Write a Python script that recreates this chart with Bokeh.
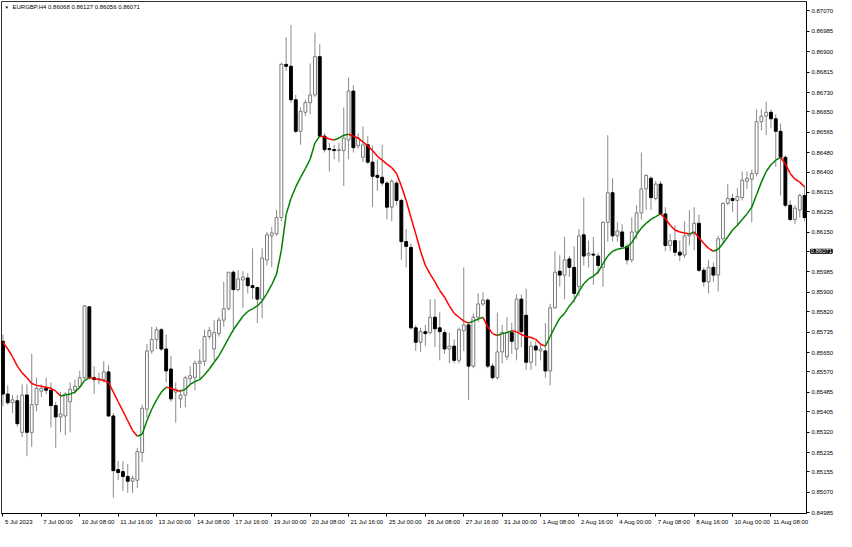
import numpy as np
from bokeh.plotting import figure
from bokeh.models import ColumnDataSource, FixedTicker, PrintfTickFormatter, Label, Range1d
from bokeh.embed import file_html
from bokeh.resources import INLINE

# ---------------- data (EURGBP, H4) ----------------
opens = [0.85697,0.85478,0.85442,0.85450,0.85319,0.85474,0.85319,0.85434,0.85490,0.85502,
         0.85494,0.85430,0.85383,0.85387,0.85446,0.85494,0.85510,0.85546,0.85840,0.85546,
         0.85538,0.85538,0.85570,0.85387,0.85164,0.85156,0.85136,0.85116,0.85120,0.85235,
         0.85415,0.85657,0.85705,0.85745,0.85665,0.85582,0.85486,0.85458,0.85474,0.85542,
         0.85546,0.85606,0.85614,0.85717,0.85665,0.85729,0.85785,0.85832,0.85984,0.85912,
         0.85952,0.85960,0.85928,0.85920,0.85872,0.86035,0.86135,0.86143,0.86211,0.86847,
         0.86839,0.86700,0.86569,0.86648,0.86688,0.86720,0.86879,0.86549,0.86497,0.86493,
         0.86489,0.86489,0.86533,0.86736,0.86509,0.86461,0.86513,0.86441,0.86386,0.86378,
         0.86354,0.86254,0.86354,0.86282,0.86111,0.86087,0.85753,0.85693,0.85737,0.85733,
         0.85797,0.85753,0.85733,0.85665,0.85677,0.85618,0.85741,0.85765,0.85594,0.85797,
         0.85852,0.85868,0.85594,0.85546,0.85653,0.85633,0.85733,0.85665,0.85872,0.85805,
         0.85610,0.85677,0.85657,0.85657,0.85574,0.85836,0.85988,0.85972,0.86039,0.86004,
         0.85924,0.86139,0.86055,0.86059,0.86051,0.86004,0.86191,0.86314,0.86135,0.86151,
         0.86091,0.86035,0.86151,0.86230,0.86330,0.86374,0.86290,0.86350,0.86226,0.86095,
         0.86115,0.86067,0.86055,0.86135,0.86143,0.86187,0.85992,0.85944,0.86004,0.85972,
         0.86123,0.86270,0.86290,0.86282,0.86294,0.86362,0.86370,0.86394,0.86609,0.86632,
         0.86648,0.86621,0.86569,0.86461,0.86262,0.86203,0.86242,0.86302]
highs = [0.85725,0.85514,0.85474,0.85474,0.85518,0.85518,0.85645,0.85546,0.85518,0.85546,
         0.85526,0.85446,0.85486,0.85486,0.85526,0.85538,0.85574,0.85848,0.85844,0.85594,
         0.85566,0.85614,0.85598,0.85399,0.85200,0.85200,0.85188,0.85140,0.85255,0.85434,
         0.85685,0.85757,0.85757,0.85753,0.85725,0.85637,0.85526,0.85498,0.85554,0.85594,
         0.85618,0.85665,0.85745,0.85757,0.85785,0.85797,0.85944,0.85984,0.85992,0.85992,
         0.85988,0.85980,0.86083,0.85924,0.86083,0.86151,0.86171,0.86242,0.86855,0.86959,
         0.87011,0.86720,0.86668,0.86700,0.86851,0.86979,0.86931,0.86561,0.86521,0.86513,
         0.86521,0.86668,0.86792,0.86760,0.86561,0.86589,0.86549,0.86509,0.86453,0.86513,
         0.86362,0.86370,0.86362,0.86290,0.86163,0.86103,0.85765,0.85753,0.85765,0.85872,
         0.85872,0.85817,0.85745,0.85733,0.85705,0.85753,0.86004,0.85777,0.85813,0.85896,
         0.85900,0.85876,0.85606,0.85817,0.85765,0.85797,0.85773,0.85892,0.85892,0.85916,
         0.85697,0.85697,0.85685,0.85773,0.85852,0.86071,0.86055,0.86131,0.86051,0.86091,
         0.86163,0.86294,0.86115,0.86131,0.86063,0.86195,0.86553,0.86374,0.86191,0.86183,
         0.86103,0.86211,0.86262,0.86481,0.86390,0.86382,0.86362,0.86362,0.86254,0.86143,
         0.86179,0.86115,0.86195,0.86242,0.86254,0.86223,0.86004,0.86035,0.86024,0.86135,
         0.86274,0.86350,0.86310,0.86334,0.86402,0.86402,0.86410,0.86660,0.86660,0.86692,
         0.86660,0.86640,0.86601,0.86469,0.86282,0.86262,0.86310,0.86342]
lows = [0.85427,0.85434,0.85399,0.85343,0.85299,0.85220,0.85259,0.85407,0.85466,0.85478,
        0.85339,0.85255,0.85319,0.85307,0.85319,0.85478,0.85502,0.85538,0.85538,0.85478,
        0.85518,0.85526,0.85383,0.85048,0.85120,0.85076,0.85068,0.85068,0.85088,0.85196,
        0.85379,0.85645,0.85665,0.85657,0.85526,0.85446,0.85359,0.85419,0.85423,0.85514,
        0.85494,0.85538,0.85594,0.85705,0.85618,0.85717,0.85757,0.85825,0.85737,0.85904,
        0.85836,0.85896,0.85872,0.85773,0.85793,0.86012,0.86004,0.86135,0.86195,0.86820,
        0.86688,0.86561,0.86513,0.86632,0.86640,0.86712,0.86541,0.86481,0.86402,0.86453,
        0.86441,0.86342,0.86453,0.86481,0.86497,0.86441,0.86433,0.86254,0.86322,0.86342,
        0.86203,0.86195,0.86262,0.86035,0.86004,0.85745,0.85657,0.85653,0.85677,0.85725,
        0.85673,0.85618,0.85645,0.85606,0.85606,0.85606,0.85657,0.85454,0.85586,0.85777,
        0.85844,0.85586,0.85538,0.85538,0.85606,0.85618,0.85645,0.85618,0.85673,0.85578,
        0.85578,0.85594,0.85618,0.85546,0.85514,0.85832,0.85924,0.85872,0.85964,0.85856,
        0.85884,0.86012,0.86004,0.85932,0.85976,0.85924,0.86111,0.86111,0.86111,0.86083,
        0.86016,0.86024,0.86123,0.86203,0.86242,0.86242,0.86282,0.86223,0.86071,0.86071,
        0.86051,0.86031,0.86043,0.86095,0.86075,0.85984,0.85924,0.85896,0.85944,0.85904,
        0.86103,0.86262,0.86234,0.86175,0.86282,0.86330,0.86191,0.86382,0.86573,0.86553,
        0.86581,0.86422,0.86302,0.86254,0.86195,0.86183,0.86211,0.86195]
closes = [0.85478,0.85442,0.85454,0.85355,0.85474,0.85319,0.85434,0.85502,0.85502,0.85494,
          0.85430,0.85383,0.85395,0.85478,0.85498,0.85510,0.85546,0.85844,0.85546,0.85538,
          0.85542,0.85570,0.85387,0.85160,0.85152,0.85136,0.85116,0.85128,0.85239,0.85419,
          0.85657,0.85705,0.85745,0.85665,0.85574,0.85458,0.85498,0.85474,0.85546,0.85554,
          0.85606,0.85614,0.85717,0.85741,0.85733,0.85785,0.85832,0.85984,0.85912,0.85956,
          0.85964,0.85928,0.85920,0.85872,0.86043,0.86139,0.86147,0.86211,0.86847,0.86839,
          0.86700,0.86569,0.86652,0.86688,0.86720,0.86879,0.86549,0.86493,0.86493,0.86489,
          0.86493,0.86541,0.86736,0.86501,0.86541,0.86513,0.86441,0.86382,0.86378,0.86354,
          0.86254,0.86362,0.86282,0.86111,0.86091,0.85753,0.85693,0.85737,0.85729,0.85797,
          0.85749,0.85737,0.85665,0.85677,0.85618,0.85745,0.85765,0.85594,0.85797,0.85852,
          0.85868,0.85594,0.85546,0.85653,0.85733,0.85733,0.85697,0.85872,0.85737,0.85610,
          0.85677,0.85661,0.85665,0.85574,0.85836,0.85984,0.85972,0.86035,0.86004,0.85896,
          0.86135,0.86051,0.86063,0.86055,0.86012,0.86191,0.86314,0.86135,0.86155,0.86091,
          0.86035,0.86151,0.86230,0.86330,0.86386,0.86294,0.86350,0.86226,0.86095,0.86115,
          0.86067,0.86055,0.86135,0.86143,0.86187,0.85992,0.85944,0.86004,0.85972,0.86123,
          0.86270,0.86290,0.86282,0.86298,0.86366,0.86374,0.86394,0.86609,0.86632,0.86648,
          0.86621,0.86569,0.86461,0.86262,0.86203,0.86250,0.86302,0.86211]
ma_values = [0.85693,0.85665,0.85633,0.85594,0.85566,0.85546,0.85522,0.85514,0.85510,0.85506,
             0.85502,0.85490,0.85470,0.85474,0.85478,0.85486,0.85506,0.85534,0.85546,0.85542,
             0.85538,0.85534,0.85526,0.85486,0.85446,0.85407,0.85367,0.85327,0.85303,0.85311,
             0.85367,0.85415,0.85454,0.85486,0.85506,0.85502,0.85494,0.85490,0.85498,0.85518,
             0.85530,0.85538,0.85558,0.85582,0.85610,0.85637,0.85673,0.85709,0.85745,0.85773,
             0.85801,0.85821,0.85832,0.85844,0.85864,0.85896,0.85932,0.85976,0.86075,0.86223,
             0.86290,0.86338,0.86378,0.86414,0.86453,0.86521,0.86549,0.86545,0.86537,0.86533,
             0.86541,0.86553,0.86557,0.86549,0.86541,0.86525,0.86509,0.86489,0.86465,0.86449,
             0.86433,0.86418,0.86394,0.86342,0.86282,0.86211,0.86143,0.86071,0.86012,0.85976,
             0.85944,0.85908,0.85880,0.85844,0.85813,0.85797,0.85781,0.85773,0.85781,0.85789,
             0.85797,0.85757,0.85729,0.85721,0.85729,0.85733,0.85741,0.85737,0.85725,0.85717,
             0.85713,0.85705,0.85685,0.85677,0.85717,0.85757,0.85793,0.85813,0.85844,0.85868,
             0.85904,0.85936,0.85956,0.85968,0.85984,0.86020,0.86051,0.86071,0.86079,0.86083,
             0.86087,0.86107,0.86139,0.86167,0.86187,0.86203,0.86215,0.86226,0.86207,0.86179,
             0.86159,0.86151,0.86147,0.86143,0.86151,0.86127,0.86103,0.86083,0.86071,0.86079,
             0.86103,0.86131,0.86159,0.86179,0.86203,0.86226,0.86254,0.86306,0.86358,0.86402,
             0.86430,0.86449,0.86461,0.86433,0.86394,0.86370,0.86358,0.86338]

date_tick_bars = [0, 8, 16, 24, 32, 40, 48, 56, 64, 72, 80, 88, 96, 104, 112, 120, 128, 136, 144, 152, 160]
date_tick_labels = ["5 Jul 2023", "7 Jul 00:00", "10 Jul 08:00", "11 Jul 16:00", "13 Jul 00:00",
                    "14 Jul 08:00", "17 Jul 16:00", "19 Jul 00:00", "20 Jul 08:00", "21 Jul 16:00",
                    "25 Jul 00:00", "26 Jul 08:00", "27 Jul 16:00", "31 Jul 00:00", "1 Aug 08:00",
                    "2 Aug 16:00", "4 Aug 00:00", "7 Aug 08:00", "8 Aug 16:00", "10 Aug 00:00",
                    "11 Aug 08:00"]
price_tick_labels = ["0.84985", "0.85070", "0.85155", "0.85235", "0.85320", "0.85405", "0.85485",
                     "0.85570", "0.85650", "0.85735", "0.85820", "0.85900", "0.85985", "0.86150",
                     "0.86235", "0.86315", "0.86400", "0.86480", "0.86565", "0.86650", "0.86730",
                     "0.86815", "0.86900", "0.86985", "0.87070"]
symbol_title = "EURGBP,H4  0.86068 0.86127 0.86056 0.86071"
current_price = 0.86071

# ---------------- build ----------------
n = len(opens)
idx = np.arange(n)
o = np.array(opens); h = np.array(highs); l = np.array(lows); c = np.array(closes)
bull = c >= o

FONT = "Liberation Sans"
FSPX = 6
FS = f"{FSPX}px"
W, H = 836, 531
X0, X1 = -0.3, n - 0.6
RIGHT_AXIS_PX = 28

p = figure(width=W, height=H, output_backend="svg", toolbar_location=None,
           x_range=Range1d(X0, X1), y_range=Range1d(0.84982, 0.87108),
           y_axis_location="right",
           min_border_left=1, min_border_top=1, min_border_right=0, min_border_bottom=0)
p.background_fill_color = "white"
p.border_fill_color = "white"
p.outline_line_color = "#333333"
p.grid.visible = False

# wicks
p.segment(idx, h, idx, l, line_color="#8a8a8a", line_width=1)
# bodies
bsrc = ColumnDataSource(dict(x=idx[bull], top=np.maximum(o, c)[bull], bottom=np.minimum(o, c)[bull]))
ssrc = ColumnDataSource(dict(x=idx[~bull], top=np.maximum(o, c)[~bull], bottom=np.minimum(o, c)[~bull]))
p.vbar(x="x", top="top", bottom="bottom", width=0.6, source=bsrc,
       fill_color="white", line_color="#7a7a7a", line_width=1)
p.vbar(x="x", top="top", bottom="bottom", width=0.6, source=ssrc,
       fill_color="black", line_color="black", line_width=1)

# moving average coloured by direction
ma = np.array(ma_values)
seg_col = np.where(ma[1:] > ma[:-1], "#008000", "#ff0000")
msrc = ColumnDataSource(dict(x0=idx[:-1], y0=ma[:-1], x1=idx[1:], y1=ma[1:], col=seg_col))
p.segment("x0", "y0", "x1", "y1", line_color="col", line_width=1.5, source=msrc)

# --- time axis: tick marks at the bars (minor ticks), texts starting just right of them
EM = {" ": 0.278, ":": 0.278, "J": 0.5, "u": 0.556, "l": 0.222, "A": 0.667, "g": 0.556}
def text_w(s):
    return sum(EM.get(ch, 0.556) for ch in s) * FSPX
px_per_bar = (W - 1 - RIGHT_AXIS_PX) / (X1 - X0)
label_pos = [b + (2.0 + text_w(s) / 2) / px_per_bar for b, s in zip(date_tick_bars, date_tick_labels)]
xa = p.xaxis[0]
xa.ticker = FixedTicker(ticks=label_pos, minor_ticks=date_tick_bars)
xa.major_label_overrides = {t: s for t, s in zip(label_pos, date_tick_labels)}
xa.major_tick_out = 0
xa.major_tick_in = 0
xa.minor_tick_out = 3
xa.minor_tick_in = 0
xa.minor_tick_line_color = "black"

ya = p.yaxis[0]
ya.ticker = FixedTicker(ticks=[float(s) for s in price_tick_labels] + [current_price])
ya.formatter = PrintfTickFormatter(format="%.5f")
ya.major_tick_out = 3
ya.major_tick_in = 0
ya.minor_tick_line_color = None
for ax in (xa, ya):
    ax.axis_line_color = "black"
    ax.major_tick_line_color = "black"
    ax.major_label_text_font = FONT
    ax.major_label_text_font_size = FS
    ax.major_label_text_color = "black"
    ax.major_label_standoff = 2

# title
p.add_layout(Label(x=X0, y=0.87108, x_offset=3, y_offset=-3, text="\u25BC",
                   text_font=FONT, text_font_size="4.5px", text_color="black",
                   text_baseline="top", text_align="left"))
p.add_layout(Label(x=X0, y=0.87108, x_offset=11, y_offset=-2, text=symbol_title,
                   text_font=FONT, text_font_size=FS, text_color="black",
                   text_baseline="top", text_align="left"))
# current price box (kept in a side panel so it is not clipped to the frame)
p.add_layout(Label(x=X1, y=current_price, x_offset=4, text=f"{current_price:.5f}",
                   text_font=FONT, text_font_size=FS, text_color="white",
                   background_fill_color="black", border_line_color="black",
                   text_baseline="middle", text_align="left"), "below")

open("out.html", "w").write(file_html(p, INLINE))
